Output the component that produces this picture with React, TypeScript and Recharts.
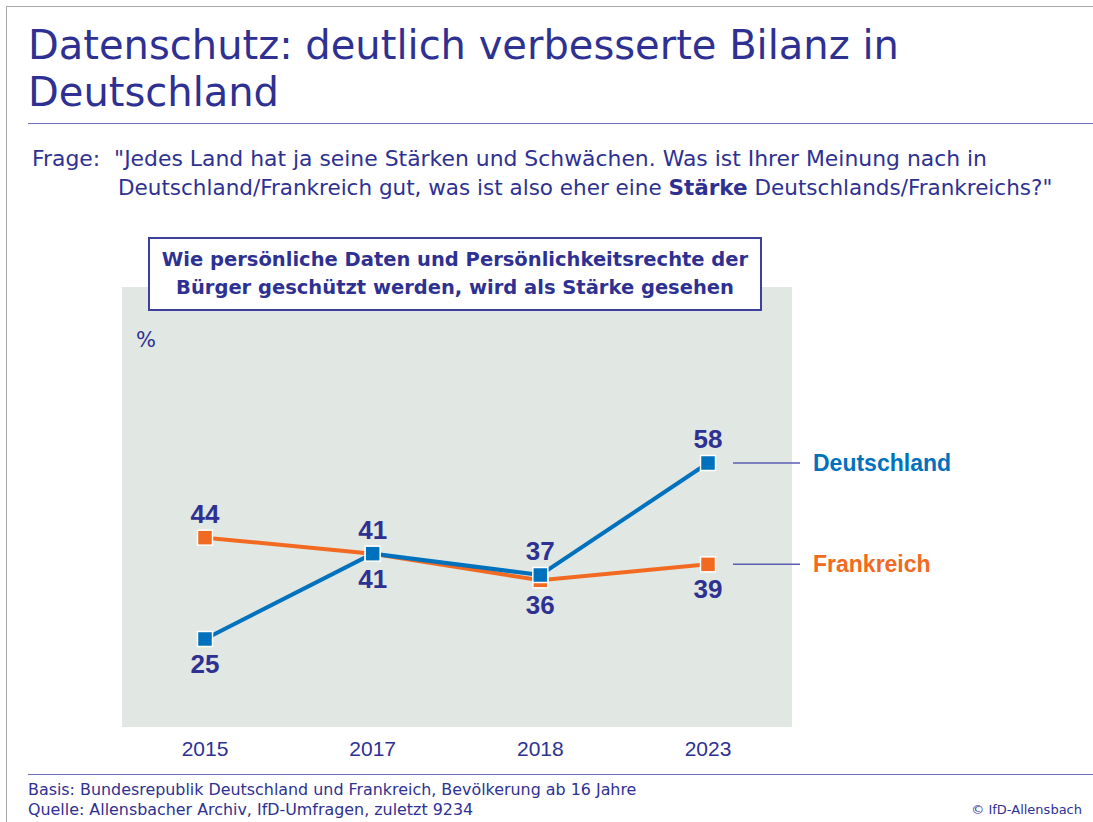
import { LineChart, Line, XAxis, YAxis, LabelList } from "recharts";

const years = ["2015", "2017", "2018", "2023"];
const deutschland = [25, 41, 37, 58];
const frankreich = [44, 41, 36, 39];

const INDIGO = "#2e3192";
const BLUE = "#0071bc";
const ORANGE = "#f26a21";
const FONT = "'Liberation Sans', Arial, sans-serif";
const WIDE = "'DejaVu Sans', sans-serif";

const data = years.map((year, i) => ({
  year,
  de: deutschland[i],
  fr: frankreich[i],
}));

const squareDot = (color: string) => (props: any) => {
  const { cx, cy, index } = props;
  if (cx == null || cy == null) return <g key={`d-${index}`} />;
  return (
    <rect
      key={`d-${color}-${index}`}
      x={cx - 7.5}
      y={cy - 7.5}
      width={15}
      height={15}
      fill={color}
      stroke="#fff"
      strokeWidth={1.5}
    />
  );
};

// label goes on the side facing away from the other series
const valueLabel = (series: "de" | "fr") => (props: any) => {
  const { x, y, index, value } = props;
  const own = series === "de" ? deutschland[index] : frankreich[index];
  const other = series === "de" ? frankreich[index] : deutschland[index];
  const above = series === "de" ? own >= other : own > other;
  return (
    <text
      x={x}
      y={above ? y - 15 : y + 34}
      textAnchor="middle"
      fill={INDIGO}
      fontSize={26}
      fontWeight="bold"
      fontFamily={FONT}
    >
      {value}
    </text>
  );
};

const seriesName = (name: string, color: string) => (props: any) => {
  const { x, y, index } = props;
  if (index !== years.length - 1) return null;
  return (
    <g>
      <line x1={x + 25} x2={x + 92} y1={y} y2={y} stroke="#5a5eb0" strokeWidth={1.5} />
      <text x={x + 105} y={y + 8} fill={color} fontSize={23} fontWeight="bold" fontFamily={FONT}>
        {name}
      </text>
    </g>
  );
};

export default function App() {
  return (
    <div
      style={{
        position: "absolute",
        left: 0,
        top: 0,
        width: 1093,
        height: 822,
        background: "#fff",
        fontFamily: WIDE,
        color: INDIGO,
        overflow: "hidden",
      }}
    >
      <div
        style={{
          position: "absolute",
          left: 6,
          top: 6,
          right: -2,
          bottom: -2,
          borderLeft: "1px solid #aaa",
          borderTop: "1px solid #aaa",
        }}
      />
      <div style={{ position: "absolute", left: 28, top: 22, fontSize: 40, lineHeight: "47px", whiteSpace: "nowrap" }}>
        Datenschutz: deutlich verbesserte Bilanz in
        <br />
        Deutschland
      </div>
      <div style={{ position: "absolute", left: 28, right: 0, top: 123, borderTop: "1.5px solid #6b6fbf" }} />
      <div style={{ position: "absolute", left: 32, top: 144, fontSize: 21.9, lineHeight: "29px", whiteSpace: "nowrap" }}>
        Frage:&nbsp;&nbsp;"Jedes Land hat ja seine Stärken und Schwächen. Was ist Ihrer Meinung nach in
      </div>
      <div style={{ position: "absolute", left: 118, top: 173, fontSize: 21.5, lineHeight: "29px", whiteSpace: "nowrap" }}>
        Deutschland/Frankreich gut, was ist also eher eine <b>Stärke</b> Deutschlands/Frankreichs?"
      </div>

      <div style={{ position: "absolute", left: 122, top: 287, width: 670, height: 440, background: "#e1e7e3" }} />

      <div style={{ position: "absolute", left: 0, top: 0 }}>
        <LineChart width={1093} height={822} data={data} margin={{ top: 239, right: 385, bottom: 65, left: 205 }}>
          <YAxis hide domain={[8.5, 100]} />
          <XAxis
            dataKey="year"
            axisLine={false}
            tickLine={false}
            tickMargin={8}
            height={30}
            tick={{ fill: INDIGO, fontSize: 21, fontFamily: FONT }}
          />
          <Line
            dataKey="fr"
            stroke={ORANGE}
            strokeWidth={4}
            dot={squareDot(ORANGE)}
            activeDot={false}
            isAnimationActive={false}
          >
            <LabelList dataKey="fr" content={valueLabel("fr")} />
            <LabelList dataKey="fr" content={seriesName("Frankreich", ORANGE)} />
          </Line>
          <Line
            dataKey="de"
            stroke={BLUE}
            strokeWidth={4}
            dot={squareDot(BLUE)}
            activeDot={false}
            isAnimationActive={false}
          >
            <LabelList dataKey="de" content={valueLabel("de")} />
            <LabelList dataKey="de" content={seriesName("Deutschland", BLUE)} />
          </Line>
        </LineChart>
      </div>

      <div
        style={{
          position: "absolute",
          left: 148,
          top: 237,
          width: 610,
          height: 70,
          border: "2px solid #3b3f9e",
          background: "#fff",
          fontWeight: "bold",
          fontSize: 19.5,
          lineHeight: "28px",
          textAlign: "center",
          whiteSpace: "nowrap",
          display: "flex",
          flexDirection: "column",
          justifyContent: "center",
        }}
      >
        <div>Wie persönliche Daten und Persönlichkeitsrechte der</div>
        <div>Bürger geschützt werden, wird als Stärke gesehen</div>
      </div>
      <div style={{ position: "absolute", left: 136, top: 327, fontSize: 21, lineHeight: "26px" }}>%</div>

      <div style={{ position: "absolute", left: 28, right: 0, top: 774, borderTop: "1.5px solid #6b6fbf" }} />
      <div style={{ position: "absolute", left: 28, top: 780, fontSize: 15.9, lineHeight: "20px", whiteSpace: "nowrap" }}>
        Basis: Bundesrepublik Deutschland und Frankreich, Bevölkerung ab 16 Jahre
        <br />
        Quelle: Allensbacher Archiv, IfD-Umfragen, zuletzt 9234
      </div>
      <div style={{ position: "absolute", right: 11, top: 801, fontSize: 13, lineHeight: "18px", whiteSpace: "nowrap" }}>
        © IfD-Allensbach
      </div>
    </div>
  );
}
